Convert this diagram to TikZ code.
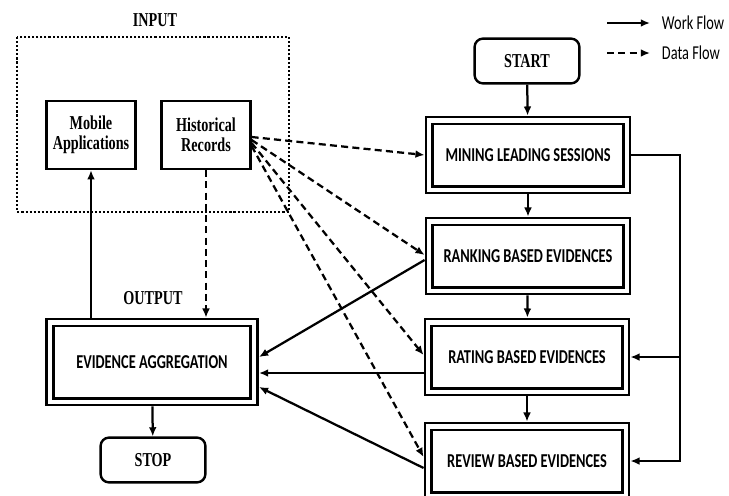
\documentclass[tikz,border=0pt]{standalone}
\usepackage{fontspec}
\setmainfont{Liberation Serif}[FakeStretch=0.72]
\newfontfamily\calfont{Carlito}[FakeStretch=0.73]
\usetikzlibrary{calc}
\usetikzlibrary{arrows.meta}

\newcommand{\serifsz}{\fontsize{14}{14.5}\selectfont\bfseries}
\newcommand{\calsz}{\calfont\fontsize{14}{15}\selectfont}

\tikzset{
	srcbox/.style={draw, line width=1.7pt, font=\serifsz, align=center, minimum width=2.22cm, minimum height=1.7cm},
	termbox/.style={draw, line width=1.7pt, rounded corners=6pt, font=\serifsz, minimum width=2.62cm, minimum height=1.12cm},
	stagebox/.style={draw, double, line width=1.9pt, double distance=3pt, outer sep=3.4pt, font=\calsz\bfseries, minimum width=4.93cm, minimum height=1.73cm},
	wf/.style={line width=1.6pt, -{Latex[length=6.5pt,width=5.5pt]}},
	df/.style={wf, dash pattern=on 5pt off 3pt},
}

\begin{document}
\begin{tikzpicture}[x=0.025cm, y=-0.025cm]
			\useasboundingbox (0,0) rectangle (729,495);
			
			% input side
			\node[font=\serifsz] (inlabel) at (155,20) {INPUT};
			\draw[line width=1.6pt, dash pattern=on 1.5pt off 1.4pt] (17,37) rectangle (289,212);
			\node[srcbox] (mob) at (91,135) {Mobile\\Applications};
			\node[srcbox] (hist) at (206,135) {Historical\\Records};
			
			% output side
			\node[font=\serifsz] (outlabel) at (153,298) {OUTPUT};
			\node[stagebox, minimum width=5.11cm, minimum height=1.98cm] (evid) at (152,362) {EVIDENCE AGGREGATION};
			\node[termbox] (stop) at (153,460) {STOP};
			
			% main flow
			\node[termbox] (start) at (527,61) {START};
			\node[stagebox] (mine) at (528,155) {MINING LEADING SESSIONS};
			\node[stagebox] (rank) at (528,256) {RANKING BASED EVIDENCES};
			\node[stagebox] (rate) at (527,357) {RATING BASED EVIDENCES};
			\node[stagebox] (rev) at (527,461) {REVIEW BASED EVIDENCES};
			
			% legend
			\coordinate (w1) at (607,23);
			\coordinate (w2) at (650,23);
			\coordinate (d1) at (607,53);
			\coordinate (d2) at (650,53);
			\draw[wf] (w1) -- (w2);
			\draw[df] (d1) -- (d2);
			\node[font=\calsz, anchor=west] (wlabel) at (657,23) {Work Flow};
			\node[font=\calsz, anchor=west] (dlabel) at (657,53) {Data Flow};
			
			\draw[wf] (start) -- (mine);
			\draw[wf] (mine) -- (rank);
			\draw[wf] (rank) -- (rate);
			\draw[wf] (rate) -- (rev);
			
			\coordinate (loop) at (680,0);
			\draw[wf] (mine.east) -- (mine.east -| loop) |- (rev.east);
			\draw[wf] (rate.east -| loop) -- (rate.east);
			
			\draw[df] ($(hist.east)+(0,2)$) -- (mine.west);
			\draw[df] ($(hist.east)+(0,5)$) -- ($(rank.west)+(0,-1)$);
			\draw[df] ($(hist.east)+(0,8)$) -- ($(rate.west)+(0,-2)$);
			\draw[df] ($(hist.east)+(0,11)$) -- ($(rev.west)+(0,-4)$);
			\draw[df] (hist.south) -- (hist.south |- evid.north);
			
			\draw[wf] ($(rank.west)+(0,4)$) -- ($(evid.east)+(0,-5)$);
			\draw[wf] ($(rate.west)+(0,16)$) -- ($(evid.east)+(0,11)$);
			\draw[wf] ($(rev.west)+(0,7)$) -- ($(evid.east)+(0,25)$);
			\draw[wf] (mob.south |- evid.north) -- (mob.south);
			\draw[wf] (evid) -- (stop);
		\end{tikzpicture}
\end{document}
